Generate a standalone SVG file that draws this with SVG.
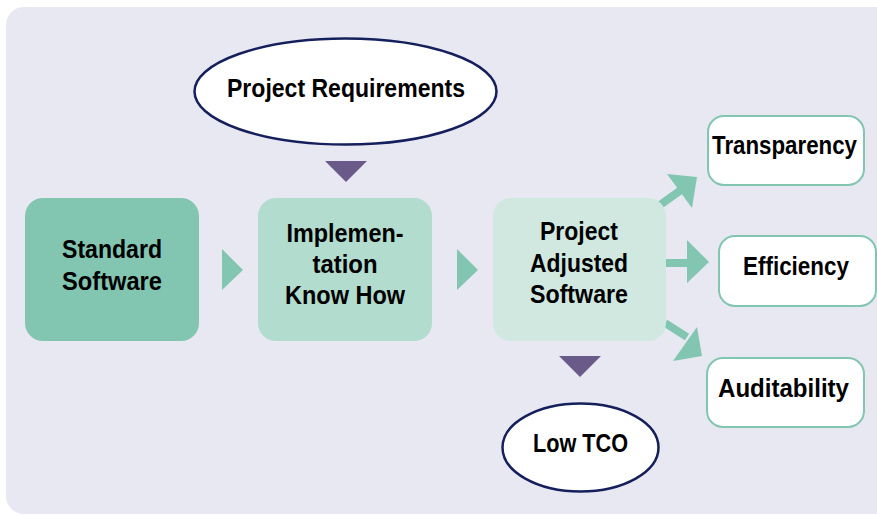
<svg xmlns="http://www.w3.org/2000/svg" width="877" height="515" viewBox="0 0 877 515">
<style>
text{font-family:"Liberation Sans",Arial,sans-serif;font-weight:bold;font-size:25px;fill:#000;text-anchor:middle}
.ell{fill:#fff;stroke:#151f5c;stroke-width:2.5}
.out{fill:#fff;stroke:#82c6b2;stroke-width:2}
.tri{fill:#82c6b2}
.dn{fill:#6a5a8a}
</style>
<rect x="6" y="7" width="890" height="507" rx="18" fill="#e8e8f2"/>
<g id="connectors">
<polygon class="tri" points="222,249 243,270 222,290"/>
<polygon class="tri" points="457,249 478,270 457,290"/>
<polygon class="dn" points="325,161 367,161 346,182"/>
<polygon class="dn" points="559,356 601,356 580,377"/>
<line x1="660" y1="205" x2="681" y2="190" stroke="#82c6b2" stroke-width="8"/>
<polygon class="tri" points="697,177 667,174 692,208"/>
<rect x="664" y="259" width="25" height="8" fill="#82c6b2"/>
<polygon class="tri" points="709,262 687,240 687,283"/>
<line x1="665" y1="323" x2="687" y2="337" stroke="#82c6b2" stroke-width="8"/>
<polygon class="tri" points="702,356 697,327 673,361"/>
</g>
<g id="project-requirements">
<ellipse class="ell" cx="345.5" cy="91.5" rx="151" ry="53"/>
<text x="346" y="97" textLength="238" lengthAdjust="spacingAndGlyphs">Project Requirements</text>
</g>
<g id="standard-software">
<rect x="25" y="198" width="174" height="143" rx="18" fill="#82c6b2"/>
<text x="112" y="258" textLength="100" lengthAdjust="spacingAndGlyphs">Standard</text>
<text x="112" y="290" textLength="100" lengthAdjust="spacingAndGlyphs">Software</text>
</g>
<g id="implementation">
<rect x="258" y="198" width="174" height="143" rx="18" fill="#b2dccd"/>
<text x="345" y="242" textLength="117" lengthAdjust="spacingAndGlyphs">Implemen-</text>
<text x="345" y="273" textLength="65" lengthAdjust="spacingAndGlyphs">tation</text>
<text x="345" y="304" textLength="120" lengthAdjust="spacingAndGlyphs">Know How</text>
</g>
<g id="project-adjusted-software">
<rect x="493" y="198" width="173" height="143" rx="18" fill="#d0e8e0"/>
<text x="579" y="240" textLength="78" lengthAdjust="spacingAndGlyphs">Project</text>
<text x="579" y="272" textLength="98" lengthAdjust="spacingAndGlyphs">Adjusted</text>
<text x="579" y="303" textLength="98" lengthAdjust="spacingAndGlyphs">Software</text>
</g>
<g id="transparency">
<rect class="out" x="708" y="116" width="156" height="69" rx="16"/>
<text x="784.5" y="154" textLength="145" lengthAdjust="spacingAndGlyphs">Transparency</text>
</g>
<g id="efficiency">
<rect class="out" x="719" y="236" width="157" height="70" rx="16"/>
<text x="796" y="275" textLength="106" lengthAdjust="spacingAndGlyphs">Efficiency</text>
</g>
<g id="auditability">
<rect class="out" x="707" y="358" width="157" height="69" rx="16"/>
<text x="783.5" y="397" textLength="131" lengthAdjust="spacingAndGlyphs">Auditability</text>
</g>
<g id="low-tco">
<ellipse class="ell" cx="580.5" cy="447.5" rx="78" ry="44"/>
<text x="580.5" y="452" textLength="95" lengthAdjust="spacingAndGlyphs">Low TCO</text>
</g>
</svg>
